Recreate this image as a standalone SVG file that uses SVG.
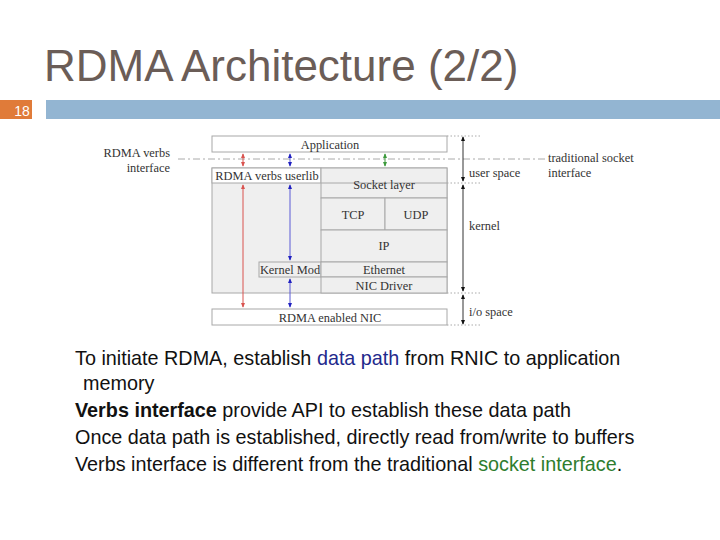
<svg xmlns="http://www.w3.org/2000/svg" width="720" height="540" viewBox="0 0 720 540">
<style>
.d{font-family:"Liberation Serif","DejaVu Serif",serif;font-size:12.4px;fill:#333}
.c{text-anchor:middle}
.box{stroke:#A8A8A8;stroke-width:1;fill:#EFEFEF}
.wbox{stroke:#A8A8A8;stroke-width:1;fill:#FFFFFF}
.b{font-family:"Liberation Sans",Arial,sans-serif;font-size:19.8px;fill:#111}
.red{stroke:#D9534F;stroke-width:1;fill:none}
.blue{stroke:#5A5AD6;stroke-width:1;fill:none}
.green{stroke:#3C9A3C;stroke-width:1;fill:none}
.ax{stroke:#333;stroke-width:1;fill:none}
.dot{stroke:#AAA;stroke-width:1;stroke-dasharray:1.5 2;fill:none}
</style>
<defs>
<marker id="ar" viewBox="0 0 6 6" refX="5" refY="3" markerWidth="5" markerHeight="5" orient="auto-start-reverse"><path d="M0,0.5 L6,3 L0,5.5 z" fill="#D9534F"/></marker>
<marker id="ab" viewBox="0 0 6 6" refX="5" refY="3" markerWidth="5" markerHeight="5" orient="auto-start-reverse"><path d="M0,0.5 L6,3 L0,5.5 z" fill="#2020C0"/></marker>
<marker id="ag" viewBox="0 0 6 6" refX="5" refY="3" markerWidth="5" markerHeight="5" orient="auto-start-reverse"><path d="M0,0.5 L6,3 L0,5.5 z" fill="#3C9A3C"/></marker>
<marker id="ak" viewBox="0 0 6 6" refX="5" refY="3" markerWidth="5" markerHeight="5" orient="auto-start-reverse"><path d="M0,0.5 L6,3 L0,5.5 z" fill="#111"/></marker>
</defs>
<rect width="720" height="540" fill="#FFFFFF"/>
<text x="44" y="81" font-family="Liberation Sans,Arial,sans-serif" font-size="44" fill="#6B5D57">RDMA Architecture (2/2)</text>
<rect x="0" y="100" width="32" height="19" fill="#E07B39"/>
<text x="22" y="116" font-family="Liberation Sans,Arial,sans-serif" font-size="14" fill="#FFFFFF" text-anchor="middle">18</text>
<rect x="46" y="100" width="674" height="19" fill="#93B5D2"/>

<g id="verbs-label"><text class="d" x="170" y="157" text-anchor="end">RDMA verbs</text><text class="d" x="170" y="172" text-anchor="end">interface</text></g>
<g id="sock-label"><text class="d" x="548" y="162">traditional socket</text><text class="d" x="548" y="177">interface</text></g>

<line x1="178" y1="159" x2="545" y2="159" stroke="#AAA" stroke-width="1" stroke-dasharray="7 3 2 3"/>

<g id="kernel-area"><rect class="box" x="212" y="168" width="235" height="125"/></g>
<g id="application"><rect class="wbox" x="212" y="136" width="235" height="16"/><text class="d c" x="330" y="148.5">Application</text></g>
<g id="userlib"><rect class="wbox" x="212" y="168" width="109" height="15"/><text class="d c" x="267" y="180">RDMA verbs userlib</text></g>
<g id="socket"><rect class="box" x="321" y="168" width="126" height="30"/><line x1="321" y1="183" x2="447" y2="183" stroke="#A8A8A8"/><text class="d c" x="384" y="188.5">Socket layer</text></g>
<g id="tcp"><rect class="box" x="321" y="198" width="64" height="32"/><text class="d c" x="353" y="219">TCP</text></g>
<g id="udp"><rect class="box" x="385" y="198" width="62" height="32"/><text class="d c" x="416" y="219">UDP</text></g>
<g id="ip"><rect class="box" x="321" y="230" width="126" height="32"/><text class="d c" x="384" y="250">IP</text></g>
<g id="kernelmod"><rect class="box" x="259" y="262" width="62" height="15"/><text class="d c" x="290" y="274">Kernel Mod</text></g>
<g id="ethernet"><rect class="box" x="321" y="262" width="126" height="15"/><text class="d c" x="384" y="274">Ethernet</text></g>
<g id="nicdriver"><rect class="box" x="321" y="277" width="126" height="16"/><text class="d c" x="384" y="289.5">NIC Driver</text></g>
<g id="rnic"><rect class="wbox" x="212" y="309" width="235" height="16"/><text class="d c" x="330" y="321.5">RDMA enabled NIC</text></g>

<g id="connectors">
<line class="red" x1="243" y1="154" x2="243" y2="166" marker-start="url(#ar)" marker-end="url(#ar)"/>
<line class="red" x1="243" y1="185" x2="243" y2="307" marker-start="url(#ar)" marker-end="url(#ar)"/>
<line class="blue" x1="290" y1="154" x2="290" y2="166" marker-start="url(#ab)" marker-end="url(#ab)"/>
<line class="blue" x1="290" y1="185" x2="290" y2="260" marker-start="url(#ab)" marker-end="url(#ab)"/>
<line class="blue" x1="290" y1="279" x2="290" y2="307" marker-start="url(#ab)" marker-end="url(#ab)"/>
<line class="green" x1="385" y1="154" x2="385" y2="166" marker-start="url(#ag)" marker-end="url(#ag)"/>
<line class="dot" x1="447" y1="136" x2="480" y2="136"/>
<line class="dot" x1="447" y1="183" x2="480" y2="183"/>
<line class="dot" x1="447" y1="293" x2="480" y2="293"/>
<line class="dot" x1="447" y1="325" x2="480" y2="325"/>
<line class="ax" x1="463" y1="137" x2="463" y2="181" marker-start="url(#ak)" marker-end="url(#ak)"/>
<line class="ax" x1="463" y1="185" x2="463" y2="291" marker-start="url(#ak)" marker-end="url(#ak)"/>
<line class="ax" x1="463" y1="295" x2="463" y2="324" marker-start="url(#ak)" marker-end="url(#ak)"/>
</g>
<text class="d" x="469" y="177">user space</text>
<text class="d" x="469" y="230">kernel</text>
<text class="d" x="469" y="316">i/o space</text>

<g id="bullets">
<text class="b" x="75" y="365">To initiate RDMA, establish <tspan fill="#1F2A8C">data path</tspan> from RNIC to application</text>
<text class="b" x="83" y="390">memory</text>
<text class="b" x="75" y="417"><tspan font-weight="bold">Verbs interface</tspan> provide API to establish these data path</text>
<text class="b" x="75" y="444">Once data path is established, directly read from/write to buffers</text>
<text class="b" x="75" y="471">Verbs interface is different from the traditional <tspan fill="#2E7D2E">socket interface</tspan>.</text>
</g>
</svg>
